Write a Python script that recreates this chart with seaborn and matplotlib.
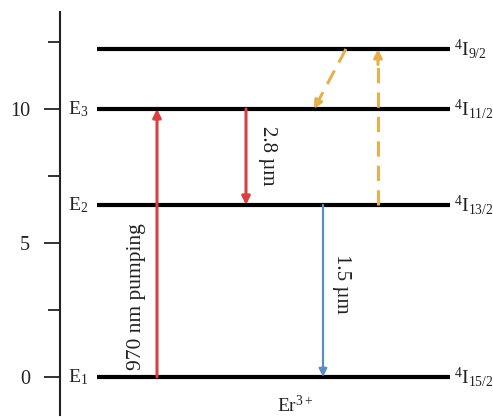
import matplotlib
matplotlib.use('Agg')
import matplotlib.pyplot as plt
import seaborn as sns
import numpy as np

# Energieniveaus van Er3+ (in eenheden van de as)
niveaus = [0.0, 6.42, 10.0, 12.24]
e_labels = ['E$_1$', 'E$_2$', 'E$_3$', '']
term_labels = [r'$^{4}\mathrm{I}_{15/2}$', r'$^{4}\mathrm{I}_{13/2}$',
               r'$^{4}\mathrm{I}_{11/2}$', r'$^{4}\mathrm{I}_{9/2}$']
major_ticks = [0, 5, 10]
minor_ticks = [2.5, 7.5, 12.5]

# Overgangen: (x-start, y-start, x-eind, y-eind)
pomp = (97, 0.0, 97, 10.0)
golf_28 = (186, 10.0, 186, 6.42)
golf_15 = (263, 6.42, 263, 0.0)
upconv_op = (318, 6.42, 318, 12.24)
upconv_neer = (286, 12.24, 254, 10.0)

rood = '#d9403f'
blauw = '#5b8cc2'
geel = '#e6b04c'

sns.set_theme(style='ticks')
plt.rcParams['font.family'] = ['Liberation Serif', 'DejaVu Serif']
plt.rcParams['mathtext.fontset'] = 'custom'
plt.rcParams['mathtext.rm'] = 'Liberation Serif'
plt.rcParams['mathtext.it'] = 'Liberation Serif:italic'

fig = plt.figure(figsize=(4.93, 4.17), dpi=100)
ax = fig.add_axes([60 / 493, 2 / 417, 433 / 493, 403 / 417])
ax.set_xlim(0, 433)
ax.set_ylim(-1.42, 13.62)

# niveaus
ax.hlines(niveaus, 37, 390, color='black', lw=3)
for y, e, t in zip(niveaus, e_labels, term_labels):
    if e:
        ax.text(8, y, e, fontsize=14, ha='left', va='center', color='#222222')
    ax.text(394, y, t, fontsize=14, ha='left', va='center', color='#222222')


def pijl(t, kleur, lw, gestreept=False):
    x0, y0, x1, y1 = t
    if gestreept:
        ax.plot([x0, x0 + (x1 - x0) * 0.93], [y0, y0 + (y1 - y0) * 0.93],
                color=kleur, lw=lw, ls=(0, (5, 3)))
        ax.annotate('', xy=(x1, y1),
                    xytext=(x0 + (x1 - x0) * 0.9, y0 + (y1 - y0) * 0.9),
                    arrowprops=dict(arrowstyle='-|>', color=kleur, lw=lw,
                                    mutation_scale=12, shrinkA=0, shrinkB=0))
    else:
        ax.annotate('', xy=(x1, y1), xytext=(x0, y0),
                    arrowprops=dict(arrowstyle='-|>', color=kleur, lw=lw,
                                    mutation_scale=12, shrinkA=0, shrinkB=0))


pijl(pomp, rood, 2.2)
pijl(golf_28, rood, 2.2)
pijl(golf_15, blauw, 1.6)
pijl(upconv_op, geel, 2.2, gestreept=True)
pijl(upconv_neer, geel, 2.2, gestreept=True)

ax.text(77, 3.0, '970 nm pumping', rotation=90, fontsize=15.5,
        ha='center', va='center', color='#222222')
ax.text(208, 8.25, '2.8 µm', rotation=-90, fontsize=15,
        ha='center', va='center', color='#222222')
ax.text(281, 3.47, '1.5 µm', rotation=-90, fontsize=15,
        ha='center', va='center', color='#222222')
# onderaan, net binnen de figuur
fig.text(295 / 493, 1 / 417, 'Er$^{3+}$', fontsize=14, ha='center',
         va='bottom', color='#222222')

# as
ax.set_yticks(major_ticks)
ax.set_yticks(minor_ticks, minor=True)
ax.set_xticks([])
ax.tick_params(axis='y', which='major', direction='out', length=11.5,
               width=1.3, labelsize=14.5, pad=10, color='#222222',
               labelcolor='#222222')
ax.tick_params(axis='y', which='minor', direction='out', length=8.6,
               width=1.3, color='#222222')
sns.despine(ax=ax, top=True, right=True, bottom=True)
ax.spines['left'].set_linewidth(1.5)
ax.spines['left'].set_color('#222222')

fig.savefig('out.png', dpi=100)
